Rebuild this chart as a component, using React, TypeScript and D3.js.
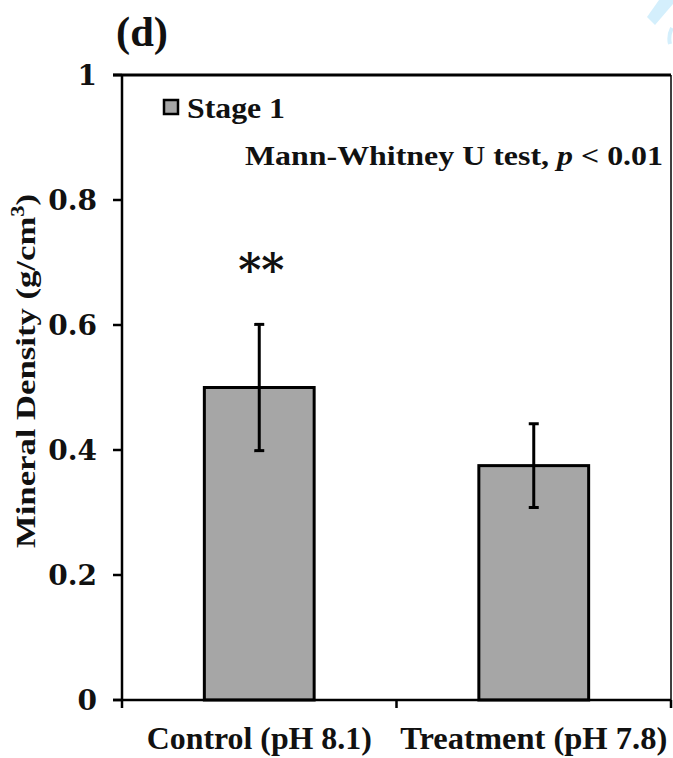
import React from 'react';
import * as d3 from 'd3';

const categories = ['Control (pH 8.1)', 'Treatment (pH 7.8)'];
const means = [0.5, 0.375];
const errors = [0.101, 0.067];
const yTicks = [0, 0.2, 0.4, 0.6, 0.8, 1];
const yTickLabels = ['0', '0.2', '0.4', '0.6', '0.8', '1'];
const seriesName = 'Stage 1';

const W = 673;
const H = 758;
const left = 122;
const right = 671;
const top = 75;
const bottom = 700;

const serif = '"Liberation Serif", serif';
const numFont = '"DejaVu Serif", serif';

export default function App() {
  const x = d3.scaleBand<string>().domain(categories).range([left, right]).paddingInner(0.6).paddingOuter(0.3);
  const y = d3.scaleLinear().domain([0, 1]).range([bottom, top]);
  const step = x.step();
  const bw = x.bandwidth();
  const catTicks = [left, left + step, right];

  return (
    <svg width={W} height={H} style={{ position: 'absolute', left: 0, top: 0, background: '#fff' }}>
      {/* watermark fragment */}
      <polygon points="659,0 673,0 673,4 655,25 647,17" fill="#d4effc" />
      <path d="M672,28 Q668,36 670,44" stroke="#d4effc" strokeWidth={4} fill="none" />

      <text x={116} y={46} fontFamily={serif} fontWeight="bold" fontSize={42} fill="#111"
        textLength={52} lengthAdjust="spacingAndGlyphs">(d)</text>

      {/* bars */}
      {categories.map((c, i) => (
        <rect key={c} x={x(c)!} y={y(means[i])} width={bw} height={bottom - y(means[i])}
          fill="#a6a6a6" stroke="#000" strokeWidth={3} />
      ))}

      {/* error bars */}
      {categories.map((c, i) => {
        const cx = x(c)! + bw / 2;
        const y1 = y(means[i] + errors[i]);
        const y2 = y(means[i] - errors[i]);
        return (
          <g key={c} stroke="#000" strokeWidth={3}>
            <line x1={cx} x2={cx} y1={y1} y2={y2} />
            <line x1={cx - 5} x2={cx + 5} y1={y1} y2={y1} />
            <line x1={cx - 5} x2={cx + 5} y1={y2} y2={y2} />
          </g>
        );
      })}

      {/* frame */}
      <line x1={113} x2={right} y1={top} y2={top} stroke="#000" strokeWidth={3} />
      <line x1={right} x2={right} y1={top} y2={bottom} stroke="#000" strokeWidth={1.5} />
      <line x1={left} x2={left} y1={top} y2={bottom} stroke="#000" strokeWidth={2.5} />
      <line x1={113} x2={right} y1={bottom} y2={bottom} stroke="#000" strokeWidth={2.5} />

      {/* y ticks */}
      {yTicks.map((t, i) => (
        <g key={t}>
          <line x1={113} x2={left} y1={y(t)} y2={y(t)} stroke="#000" strokeWidth={2.5} />
          <text x={97} y={y(t)} dy="0.36em" textAnchor="end" fontFamily={numFont} fontWeight="bold" fontSize={28} fill="#111">
            {yTickLabels[i]}
          </text>
        </g>
      ))}

      {/* x ticks */}
      {catTicks.map((t, i) => (
        <line key={i} x1={t} x2={t} y1={bottom} y2={bottom + 8} stroke="#000" strokeWidth={2.5} />
      ))}
      {categories.map((c, i) => (
        <text key={c} x={x(c)! + bw / 2} y={749} textAnchor="middle" fontFamily={serif} fontWeight="bold"
          fontSize={31} fill="#111" textLength={i === 0 ? 225 : 267} lengthAdjust="spacingAndGlyphs">
          {c}
        </text>
      ))}

      {/* y title */}
      <text transform={`translate(35,371) rotate(-90)`} textAnchor="middle" fontFamily={serif} fontWeight="bold"
        fontSize={28} fill="#111" textLength={354} lengthAdjust="spacingAndGlyphs">
        Mineral Density (g/cm<tspan dy="-11" fontSize={18}>3</tspan><tspan dy="11">)</tspan>
      </text>

      {/* legend */}
      <rect x={164} y={100} width={14} height={14} fill="#a6a6a6" stroke="#000" strokeWidth={2.5} />
      <text x={187} y={118} fontFamily={serif} fontWeight="bold" fontSize={30} fill="#111"
        textLength={98} lengthAdjust="spacingAndGlyphs">{seriesName}</text>

      <text x={663} y={165} textAnchor="end" fontFamily={serif} fontWeight="bold" fontSize={27} fill="#111"
        textLength={418} lengthAdjust="spacingAndGlyphs">
        Mann-Whitney U test, <tspan fontStyle="italic">p</tspan> &lt; 0.01
      </text>

      <text x={x(categories[0])! + bw / 2 + 2} y={y(means[0] + errors[0]) - 38} textAnchor="middle" fontFamily={numFont}
        fontWeight="bold" fontSize={44} fill="#111">**</text>
    </svg>
  );
}
